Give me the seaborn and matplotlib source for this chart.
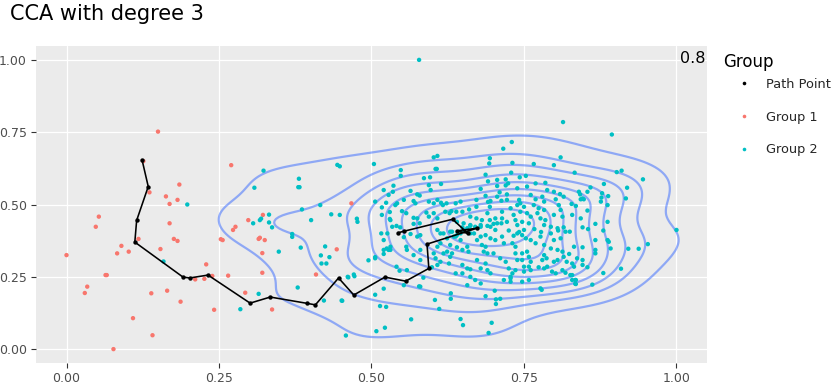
import numpy as np
import pandas as pd
import matplotlib
matplotlib.use("Agg")
import matplotlib.pyplot as plt
import seaborn as sns

# ---------------- data ----------------
path_x = [0.124, 0.134, 0.115, 0.112, 0.191, 0.202, 0.232, 0.301, 0.334, 0.395, 0.408, 0.446,
          0.471, 0.522, 0.556, 0.594, 0.591, 0.673, 0.640, 0.658, 0.633, 0.554, 0.543]
path_y = [0.653, 0.562, 0.445, 0.370, 0.249, 0.246, 0.256, 0.159, 0.180, 0.158, 0.153, 0.246,
          0.187, 0.249, 0.235, 0.279, 0.363, 0.418, 0.409, 0.400, 0.449, 0.408, 0.402]

group1_pts = [
    (0.150, 0.752), (0.000, 0.325), (0.053, 0.458), (0.048, 0.423), (0.030, 0.194), (0.034, 0.216),
    (0.064, 0.256), (0.066, 0.256), (0.077, 0.000), (0.109, 0.107), (0.083, 0.331), (0.090, 0.357),
    (0.102, 0.337), (0.118, 0.381), (0.126, 0.650), (0.136, 0.542), (0.139, 0.193), (0.141, 0.048),
    (0.154, 0.346), (0.163, 0.528), (0.169, 0.502), (0.169, 0.435), (0.182, 0.516), (0.185, 0.569),
    (0.165, 0.202), (0.176, 0.381), (0.182, 0.374), (0.187, 0.164), (0.211, 0.241), (0.226, 0.243),
    (0.229, 0.293), (0.239, 0.253), (0.242, 0.136), (0.265, 0.254), (0.270, 0.636), (0.273, 0.412),
    (0.277, 0.423), (0.253, 0.380), (0.256, 0.377), (0.293, 0.195), (0.298, 0.446), (0.315, 0.381),
    (0.317, 0.385), (0.325, 0.377), (0.321, 0.332), (0.321, 0.264), (0.322, 0.464), (0.337, 0.137),
    (0.409, 0.258), (0.443, 0.345), (0.467, 0.504),
]

group2_pts = [
    # left sparse
    (0.198, 0.500), (0.159, 0.303), (0.285, 0.138), (0.308, 0.558), (0.323, 0.617), (0.306, 0.435),
    (0.315, 0.191), (0.317, 0.446), (0.319, 0.451), (0.332, 0.465), (0.332, 0.438), (0.337, 0.421),
    (0.348, 0.337), (0.370, 0.398), (0.370, 0.388), (0.380, 0.560), (0.382, 0.560), (0.381, 0.589),
    (0.384, 0.351), (0.379, 0.213), (0.386, 0.483), (0.401, 0.446), (0.416, 0.498), (0.417, 0.324),
    (0.418, 0.296), (0.426, 0.296), (0.424, 0.355), (0.431, 0.318), (0.422, 0.168), (0.434, 0.466),
    (0.444, 0.637), (0.448, 0.632), (0.448, 0.464), (0.451, 0.168), (0.458, 0.047), (0.462, 0.248),
    (0.471, 0.258), (0.472, 0.252), (0.476, 0.451), (0.477, 0.440),
    # top sparse
    (0.578, 1.000), (0.814, 0.785), (0.894, 0.742), (0.730, 0.716), (0.716, 0.693), (0.602, 0.663),
    (0.608, 0.668), (0.810, 0.663), (0.694, 0.660), (0.693, 0.642), (0.504, 0.640), (0.766, 0.640),
    (0.799, 0.636), (0.731, 0.644), (0.548, 0.619), (0.548, 0.599), (0.607, 0.623), (0.687, 0.603),
    (0.729, 0.610), (0.833, 0.610), (0.902, 0.612), (0.910, 0.617), (0.945, 0.587), (0.919, 0.558),
    (0.917, 0.521),
    # right / bottom sparse
    (1.000, 0.412), (0.953, 0.363), (0.921, 0.347), (0.938, 0.347), (0.909, 0.278), (0.862, 0.223),
    (0.880, 0.263), (0.777, 0.210), (0.779, 0.205), (0.834, 0.226), (0.834, 0.239), (0.829, 0.256),
    (0.728, 0.245), (0.702, 0.202), (0.704, 0.172), (0.711, 0.174), (0.704, 0.156), (0.687, 0.183),
    (0.697, 0.091), (0.692, 0.056), (0.646, 0.104), (0.650, 0.083), (0.630, 0.193), (0.630, 0.174),
    (0.611, 0.139), (0.604, 0.170), (0.565, 0.103), (0.524, 0.146), (0.514, 0.149), (0.522, 0.074),
    (0.508, 0.062), (0.452, 0.167), (0.506, 0.188), (0.520, 0.209), (0.578, 0.217), (0.585, 0.247),
    (0.461, 0.250), (0.495, 0.307), (0.506, 0.318), (0.541, 0.285), (0.546, 0.271), (0.558, 0.273),
    (0.520, 0.343), (0.531, 0.343),
    # cluster left edge
    (0.506, 0.510), (0.520, 0.550), (0.536, 0.565), (0.539, 0.498), (0.530, 0.450), (0.517, 0.464),
    (0.534, 0.423), (0.526, 0.400), (0.516, 0.400), (0.520, 0.377), (0.525, 0.348),
    # cluster upper-left
    (0.605, 0.623), (0.586, 0.591), (0.596, 0.594), (0.614, 0.571), (0.706, 0.585), (0.720, 0.587),
    (0.724, 0.573), (0.720, 0.566), (0.691, 0.580), (0.535, 0.544), (0.564, 0.547), (0.594, 0.567),
    (0.597, 0.550), (0.575, 0.535), (0.579, 0.531), (0.553, 0.516), (0.528, 0.533), (0.524, 0.506),
    (0.542, 0.504), (0.569, 0.512), (0.572, 0.504), (0.602, 0.504), (0.608, 0.516), (0.594, 0.510),
    (0.617, 0.498), (0.614, 0.506), (0.623, 0.504), (0.638, 0.504), (0.646, 0.510), (0.631, 0.477),
    (0.639, 0.475), (0.649, 0.475), (0.672, 0.516), (0.672, 0.492), (0.660, 0.483), (0.687, 0.530),
    (0.691, 0.509), (0.695, 0.512), (0.694, 0.492), (0.706, 0.564), (0.710, 0.542), (0.706, 0.527),
    (0.713, 0.513), (0.722, 0.516), (0.722, 0.535), (0.679, 0.554), (0.517, 0.490), (0.530, 0.474),
    (0.550, 0.477), (0.557, 0.470), (0.569, 0.454), (0.575, 0.452), (0.590, 0.472), (0.594, 0.458),
    (0.602, 0.470), (0.608, 0.452), (0.621, 0.475), (0.628, 0.470), (0.662, 0.458), (0.672, 0.452),
    (0.681, 0.446), (0.690, 0.470), (0.694, 0.446), (0.703, 0.452), (0.714, 0.475), (0.714, 0.452),
    (0.722, 0.440), (0.531, 0.446), (0.541, 0.426), (0.547, 0.421), (0.569, 0.433), (0.579, 0.435),
    (0.640, 0.440), (0.651, 0.435), (0.649, 0.421), (0.657, 0.418), (0.662, 0.426), (0.679, 0.423),
    (0.690, 0.426), (0.700, 0.433), (0.713, 0.435),
    # cluster upper-right
    (0.743, 0.594), (0.753, 0.599), (0.769, 0.573), (0.785, 0.575), (0.739, 0.556), (0.755, 0.562),
    (0.788, 0.550), (0.799, 0.544), (0.809, 0.536), (0.815, 0.527), (0.840, 0.544), (0.842, 0.535),
    (0.854, 0.544), (0.859, 0.559), (0.843, 0.518), (0.881, 0.571), (0.878, 0.539), (0.877, 0.524),
    (0.876, 0.510), (0.888, 0.529), (0.887, 0.498), (0.780, 0.527), (0.783, 0.510), (0.802, 0.518),
    (0.828, 0.502), (0.835, 0.495), (0.846, 0.521), (0.848, 0.518), (0.761, 0.533), (0.769, 0.518),
    (0.742, 0.516), (0.744, 0.504), (0.739, 0.498), (0.750, 0.492), (0.766, 0.498), (0.774, 0.487),
    (0.783, 0.481), (0.807, 0.498), (0.810, 0.481), (0.799, 0.464), (0.813, 0.458), (0.829, 0.464),
    (0.843, 0.452), (0.854, 0.479), (0.867, 0.433), (0.887, 0.440), (0.728, 0.487), (0.733, 0.464),
    (0.744, 0.475), (0.755, 0.470), (0.761, 0.458), (0.772, 0.470), (0.777, 0.452), (0.785, 0.446),
    (0.736, 0.446), (0.747, 0.440), (0.758, 0.435), (0.739, 0.429), (0.783, 0.429), (0.794, 0.423),
    (0.805, 0.418), (0.815, 0.421), (0.846, 0.421),
    # cluster lower-left
    (0.531, 0.354), (0.528, 0.343), (0.520, 0.329), (0.506, 0.314), (0.553, 0.387), (0.564, 0.398),
    (0.557, 0.354), (0.558, 0.343), (0.569, 0.325), (0.580, 0.343), (0.580, 0.308), (0.553, 0.221),
    (0.580, 0.216), (0.602, 0.331), (0.605, 0.314), (0.608, 0.291), (0.599, 0.283), (0.613, 0.302),
    (0.618, 0.331), (0.624, 0.337), (0.632, 0.331), (0.629, 0.319), (0.608, 0.354), (0.613, 0.366),
    (0.624, 0.383), (0.635, 0.389), (0.646, 0.377), (0.629, 0.360), (0.640, 0.352), (0.649, 0.343),
    (0.657, 0.354), (0.659, 0.337), (0.618, 0.400), (0.629, 0.406), (0.640, 0.394), (0.662, 0.400),
    (0.627, 0.296), (0.649, 0.291), (0.657, 0.279), (0.662, 0.276), (0.638, 0.262), (0.649, 0.262),
    (0.662, 0.250), (0.657, 0.221), (0.673, 0.377), (0.681, 0.360), (0.687, 0.354), (0.684, 0.337),
    (0.690, 0.331), (0.700, 0.331), (0.668, 0.400), (0.679, 0.389), (0.687, 0.394), (0.695, 0.383),
    (0.703, 0.377), (0.714, 0.389), (0.717, 0.366), (0.673, 0.308), (0.687, 0.296), (0.679, 0.279),
    (0.690, 0.273), (0.695, 0.262), (0.711, 0.314), (0.720, 0.302), (0.725, 0.279), (0.670, 0.239),
    (0.679, 0.227), (0.717, 0.239),
    # cluster lower-right
    (0.739, 0.400), (0.747, 0.394), (0.731, 0.366), (0.736, 0.354), (0.753, 0.383), (0.761, 0.377),
    (0.769, 0.366), (0.777, 0.389), (0.783, 0.360), (0.794, 0.400), (0.799, 0.377), (0.810, 0.383),
    (0.818, 0.406), (0.794, 0.348), (0.805, 0.343), (0.813, 0.337), (0.824, 0.329), (0.832, 0.354),
    (0.846, 0.352), (0.783, 0.325), (0.787, 0.314), (0.780, 0.308), (0.747, 0.331), (0.755, 0.337),
    (0.758, 0.319), (0.747, 0.308), (0.736, 0.331), (0.739, 0.308), (0.867, 0.377), (0.887, 0.377),
    (0.889, 0.371), (0.892, 0.348), (0.867, 0.343), (0.867, 0.331), (0.761, 0.302), (0.758, 0.285),
    (0.799, 0.302), (0.805, 0.308), (0.815, 0.319), (0.820, 0.302), (0.837, 0.314), (0.846, 0.308),
    (0.829, 0.296), (0.832, 0.285), (0.846, 0.291), (0.854, 0.283), (0.750, 0.285), (0.750, 0.268),
    (0.761, 0.273), (0.774, 0.283), (0.783, 0.279), (0.788, 0.285), (0.796, 0.268), (0.802, 0.262),
    (0.813, 0.273), (0.818, 0.264), (0.826, 0.256), (0.829, 0.239), (0.835, 0.239), (0.835, 0.225),
    (0.728, 0.250), (0.728, 0.233), (0.747, 0.233), (0.758, 0.239), (0.731, 0.262), (0.736, 0.273),
    # cluster core
    (0.733, 0.392), (0.742, 0.405), (0.725, 0.410), (0.750, 0.412), (0.632, 0.406), (0.638, 0.389),
    (0.646, 0.400), (0.651, 0.412), (0.662, 0.429), (0.670, 0.423), (0.679, 0.429), (0.695, 0.423),
    (0.703, 0.412), (0.706, 0.435), (0.608, 0.412), (0.613, 0.400), (0.575, 0.389), (0.580, 0.394),
    (0.767, 0.415), (0.778, 0.405), (0.806, 0.410), (0.825, 0.406), (0.855, 0.415), (0.880, 0.410),
]

group_names = ["Path Point", "Group 1", "Group 2"]
group_colors = ["#000000", "#F8766D", "#00BFC4"]

x_ticks = [0.0, 0.25, 0.5, 0.75, 1.0]
x_tick_labels = ["0.00", "0.25", "0.50", "0.75", "1.00"]
y_ticks = [0.0, 0.25, 0.5, 0.75, 1.0]
y_tick_labels = ["0.00", "0.25", "0.50", "0.75", "1.00"]

title_text = "CCA with degree 3"
legend_title = "Group"
corner_label = "0.8"

# ---------------- build frames ----------------
g1 = np.array(group1_pts)
g2 = np.array(group2_pts)
df_path = pd.DataFrame({"x": path_x, "y": path_y, "Group": group_names[0]})
df_g1 = pd.DataFrame({"x": g1[:, 0], "y": g1[:, 1], "Group": group_names[1]})
df_g2 = pd.DataFrame({"x": g2[:, 0], "y": g2[:, 1], "Group": group_names[2]})
df_pts = pd.concat([df_g1, df_g2], ignore_index=True)

# ---------------- style ----------------
sns.set_theme(style="darkgrid", rc={
    "axes.facecolor": "#EBEBEB",
    "grid.color": "white",
    "grid.linewidth": 0.9,
    "axes.edgecolor": "#EBEBEB",
})
plt.rcParams["font.family"] = ["DejaVu Sans"]

W, H = 832, 392
fig = plt.figure(figsize=(W / 100, H / 100), dpi=100)
ax = fig.add_axes([36 / W, 1 - 363 / H, (707 - 36) / W, (363 - 46) / H])

# density contours of group 2
sns.kdeplot(data=df_g2, x="x", y="y", levels=10, thresh=0.05, bw_adjust=1.12,
            color="#3366FF", alpha=0.5, linewidths=1.6, ax=ax, zorder=1)

# points
palette = dict(zip(group_names, group_colors))
sns.scatterplot(data=df_pts, x="x", y="y", hue="Group", hue_order=group_names[1:],
                palette=palette, s=10, linewidth=0, ax=ax, zorder=2, legend=False)

# path line + path points
sns.lineplot(data=df_path, x="x", y="y", sort=False, estimator=None, color="black",
             linewidth=1.15, ax=ax, zorder=3, legend=False)
sns.scatterplot(data=df_path, x="x", y="y", color="black", s=10, linewidth=0, ax=ax,
                zorder=4, legend=False)

ax.set_xlim(-0.05, 1.05)
ax.set_ylim(-0.048, 1.048)
ax.set_xticks(x_ticks)
ax.set_xticklabels(x_tick_labels)
ax.set_yticks(y_ticks)
ax.set_yticklabels(y_tick_labels)
ax.set_xlabel("")
ax.set_ylabel("")
ax.tick_params(axis="both", labelsize=9, labelcolor="#4D4D4D", length=3.5, width=0.8,
               color="#333333", pad=3, bottom=True, left=True)
for s in ax.spines.values():
    s.set_visible(False)

ax.text(1.047, 1.005, corner_label, ha="right", va="center", fontsize=11.5, color="black",
        zorder=5)

fig.text(10 / W, 1 - 4 / H, title_text, ha="left", va="top", fontsize=15, color="black")

# legend
fig.text(723 / W, 1 - 62 / H, legend_title, ha="left", va="center", fontsize=12, color="black")
handles = [plt.Line2D([], [], marker="o", linestyle="", markersize=2.6,
                      markerfacecolor=c, markeredgewidth=0) for c in group_colors]
leg = fig.legend(handles, group_names, loc="upper left",
                 bbox_to_anchor=(737.5 / W, 1 - 78 / H), bbox_transform=fig.transFigure,
                 frameon=False, fontsize=9.3, labelspacing=1.52, handletextpad=1.2,
                 handlelength=1.0, borderaxespad=0.0, borderpad=0.0)

fig.savefig("out.png", dpi=100)
